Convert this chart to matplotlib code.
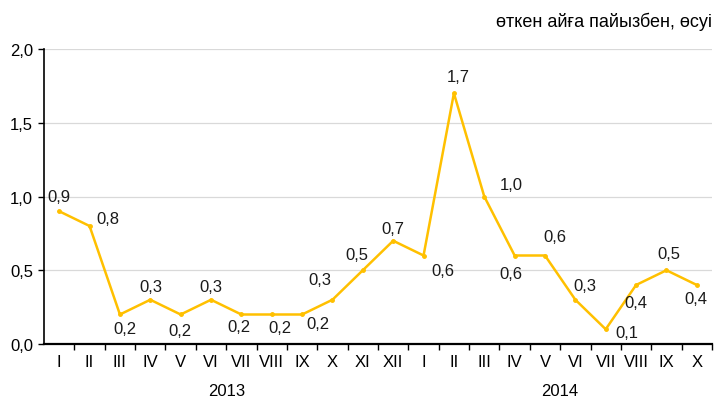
import numpy as np
import matplotlib
matplotlib.use("Agg")
import matplotlib.pyplot as plt
import matplotlib.transforms as mtransforms

plt.rcParams['font.family'] = ['Liberation Sans', 'DejaVu Sans']

# данные
months = ['I', 'II', 'III', 'IV', 'V', 'VI', 'VII', 'VIII', 'IX', 'X', 'XI', 'XII',
          'I', 'II', 'III', 'IV', 'V', 'VI', 'VII', 'VIII', 'IX', 'X']
values = [0.9, 0.8, 0.2, 0.3, 0.2, 0.3, 0.2, 0.2, 0.2, 0.3, 0.5, 0.7,
          0.6, 1.7, 1.0, 0.6, 0.6, 0.3, 0.1, 0.4, 0.5, 0.4]
years = ['2013', '2014']
year_centers = [5.5, 16.5]
subtitle = 'өткен айға пайызбен, өсуі'

# смещения подписей (в пикселях)
label_offsets = [(0, 15), (18, 8), (5, -14), (1, 13), (-1, -16), (0, 13),
                 (-2, -12), (8, -13), (16, -9), (-13, 20), (-6, 16), (0, 12),
                 (19, -15), (4, 17), (27, 12), (-4, -18), (10, 19), (10, 14),
                 (21, -3), (0, -18), (2, 17), (-1, -14)]

color = '#FFC000'
fs = 12

fig = plt.figure(figsize=(7.17, 4.02), dpi=100)
ax = fig.add_axes([0.0614, 0.1418, 0.9316, 0.7338])

x = np.arange(len(values))
ax.plot(x, values, color=color, lw=1.8, marker='o', ms=2.5, zorder=3)

for xi, v, off in zip(x, values, label_offsets):
    ax.annotate(('%.1f' % v).replace('.', ','), (xi, v), xytext=off,
                textcoords='offset pixels', ha='center', va='center',
                fontsize=fs, color='#1a1a1a')

ax.set_xlim(-0.5, len(values) - 0.5)
ax.set_ylim(0, 2.0)
yt = [0, 0.5, 1.0, 1.5, 2.0]
ax.set_yticks(yt)
ax.set_yticklabels([('%.1f' % t).replace('.', ',') for t in yt], fontsize=fs)
for t in yt[1:]:
    ax.axhline(t, color='#d9d9d9', lw=0.9, zorder=0)

ax.set_xticks(np.arange(0.5, len(values), 1.0))
ax.set_xticklabels([])
ax.set_xticks(x, minor=True)
ax.set_xticklabels(months, minor=True, fontsize=fs)
ax.tick_params(axis='x', which='minor', length=0, pad=7)
ax.tick_params(axis='x', which='major', length=4, width=1, direction='out')
ax.tick_params(axis='y', length=4, width=1, direction='out', pad=4)

for s in ['top', 'right']:
    ax.spines[s].set_visible(False)
ax.spines['left'].set_linewidth(1.2)
ax.spines['bottom'].set_linewidth(1.6)

trans = mtransforms.blended_transform_factory(ax.transData, fig.transFigure)
for name, c in zip(years, year_centers):
    ax.text(c, 1 - 392 / 402, name, transform=trans, ha='center', va='center', fontsize=fs)

fig.text(0.993, 1 - 22 / 402, subtitle, ha='right', va='center', fontsize=13)

fig.savefig('out.png', dpi=100)
